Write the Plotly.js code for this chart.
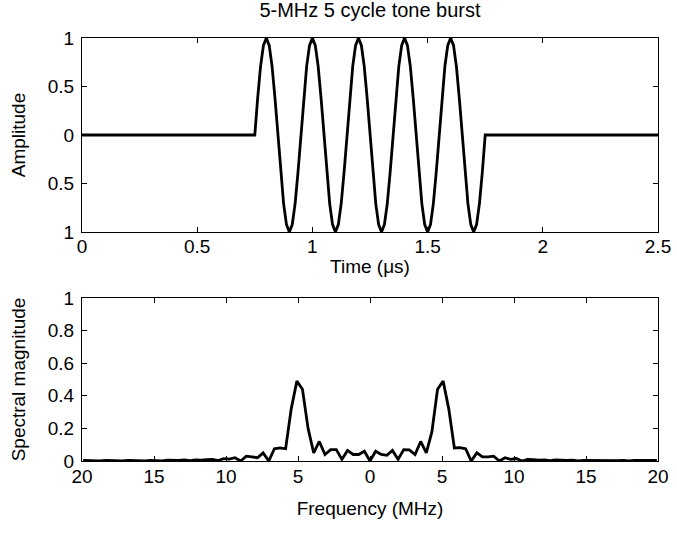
<!DOCTYPE html>
<html>
<head>
<meta charset="utf-8">
<script src="https://cdn.plot.ly/plotly-3.0.1.min.js"></script>
<style>html,body{margin:0;padding:0;background:#fff;}#chart{width:677px;height:549px;}</style>
</head>
<body>
<div id="chart"></div>
<script>
// ---- Tone burst (time in microseconds, amplitude) ----
var burstTime = [0, 0.75, 0.7625, 0.775, 0.7875, 0.8, 0.8125, 0.825, 0.8375, 0.85, 0.8625, 0.875, 0.8875, 0.9, 0.9125, 0.925, 0.9375,
  0.95, 0.9625, 0.975, 0.9875, 1.0, 1.0125, 1.025, 1.0375, 1.05, 1.0625, 1.075, 1.0875, 1.1, 1.1125, 1.125, 1.1375,
  1.15, 1.1625, 1.175, 1.1875, 1.2, 1.2125, 1.225, 1.2375, 1.25, 1.2625, 1.275, 1.2875, 1.3, 1.3125, 1.325, 1.3375,
  1.35, 1.3625, 1.375, 1.3875, 1.4, 1.4125, 1.425, 1.4375, 1.45, 1.4625, 1.475, 1.4875, 1.5, 1.5125, 1.525, 1.5375,
  1.55, 1.5625, 1.575, 1.5875, 1.6, 1.6125, 1.625, 1.6375, 1.65, 1.6625, 1.675, 1.6875, 1.7, 1.7125, 1.725, 1.7375,
  1.75, 2.5];
var burstAmp = [0, 0, 0.383, 0.707, 0.924, 1, 0.924, 0.707, 0.383, 0, -0.383, -0.707, -0.924, -1, -0.924, -0.707, -0.383,
  0, 0.383, 0.707, 0.924, 1, 0.924, 0.707, 0.383, 0, -0.383, -0.707, -0.924, -1, -0.924, -0.707, -0.383,
  0, 0.383, 0.707, 0.924, 1, 0.924, 0.707, 0.383, 0, -0.383, -0.707, -0.924, -1, -0.924, -0.707, -0.383,
  0, 0.383, 0.707, 0.924, 1, 0.924, 0.707, 0.383, 0, -0.383, -0.707, -0.924, -1, -0.924, -0.707, -0.383,
  0, 0.383, 0.707, 0.924, 1, 0.924, 0.707, 0.383, 0, -0.383, -0.707, -0.924, -1, -0.924, -0.707, -0.383,
  0, 0];

// ---- Spectrum (frequency in MHz, magnitude) ----
var freq = [-19.92, -19.53, -19.14, -18.75, -18.36, -17.97, -17.58, -17.19, -16.80, -16.41, -16.02, -15.63, -15.23,
  -14.84, -14.45, -14.06, -13.67, -13.28, -12.89, -12.50, -12.11, -11.72, -11.33, -10.94, -10.55, -10.16, -9.77,
  -9.38, -8.98, -8.59, -8.20, -7.81, -7.42, -7.03, -6.64, -6.25, -5.86, -5.47, -5.08, -4.69, -4.30, -3.91, -3.52,
  -3.13, -2.73, -2.34, -1.95, -1.56, -1.17, -0.78, -0.39, 0, 0.39, 0.78, 1.17, 1.56, 1.95, 2.34, 2.73, 3.13, 3.52,
  3.91, 4.30, 4.69, 5.08, 5.47, 5.86, 6.25, 6.64, 7.03, 7.42, 7.81, 8.20, 8.59, 8.98, 9.38, 9.77, 10.16, 10.55,
  10.94, 11.33, 11.72, 12.11, 12.50, 12.89, 13.28, 13.67, 14.06, 14.45, 14.84, 15.23, 15.63, 16.02, 16.41, 16.80,
  17.19, 17.58, 17.97, 18.36, 18.75, 19.14, 19.53, 19.92];
var mag = [0.003, 0.002, 0.003, 0.001, 0.004, 0.002, 0.003, 0.001, 0.004, 0.002, 0.003, 0.001, 0.004,
  0.003, 0.001, 0.005, 0.003, 0.004, 0.006, 0.002, 0.007, 0.005, 0.008, 0.010, 0.003, 0.015, 0.012,
  0.020, 0.000, 0.030, 0.025, 0.020, 0.050, 0.000, 0.075, 0.080, 0.075, 0.320, 0.490, 0.440, 0.200, 0.050, 0.120,
  0.040, 0.070, 0.070, 0.010, 0.065, 0.040, 0.040, 0.060, 0.000, 0.060, 0.040, 0.035, 0.065, 0.010, 0.070, 0.068, 0.040, 0.120,
  0.050, 0.180, 0.440, 0.490, 0.320, 0.080, 0.082, 0.075, 0.000, 0.050, 0.025, 0.025, 0.030, 0.000, 0.020, 0.010, 0.015, 0.000,
  0.010, 0.008, 0.005, 0.007, 0.002, 0.006, 0.004, 0.003, 0.005, 0.001, 0.004, 0.003, 0.002, 0.004, 0.001, 0.003,
  0.002, 0.004, 0.001, 0.003, 0.002, 0.004, 0.001, 0.003];

// ---- Tick labels (as printed in the figure) ----
var ampTickVals = [1, 0.5, 0, -0.5, -1];
var ampTickText = ['1', '0.5', '0', '0.5', '1'];
var timeTickVals = [0, 0.5, 1, 1.5, 2, 2.5];
var timeTickText = ['0', '0.5', '1', '1.5', '2', '2.5'];
var freqTickVals = [-20, -15, -10, -5, 0, 5, 10, 15, 20];
var freqTickText = ['20', '15', '10', '5', '0', '5', '10', '15', '20'];
var magTickVals = [0, 0.2, 0.4, 0.6, 0.8, 1];
var magTickText = ['0', '0.2', '0.4', '0.6', '0.8', '1'];

var FONT = 'Liberation Sans, Arial, Helvetica, sans-serif';
var FS = 19;
var axisCommon = {
  showline: true, linecolor: '#000', linewidth: 1, mirror: 'allticks',
  ticks: 'inside', ticklen: 5, tickwidth: 1, tickcolor: '#000',
  showgrid: false, zeroline: false, tickfont: {family: FONT, size: FS, color: '#000'}
};

var traces = [
  {x: burstTime, y: burstAmp, type: 'scatter', mode: 'lines', line: {color: '#000', width: 2.8},
   xaxis: 'x', yaxis: 'y', hoverinfo: 'skip'},
  {x: freq, y: mag, type: 'scatter', mode: 'lines', line: {color: '#000', width: 2.8},
   xaxis: 'x2', yaxis: 'y2', hoverinfo: 'skip'}
];

var layout = {
  width: 677, height: 549,
  margin: {l: 82, r: 19, t: 38, b: 88},
  paper_bgcolor: '#fff', plot_bgcolor: '#fff',
  showlegend: false,
  font: {family: FONT, color: '#000', size: FS},
  title: {text: '5-MHz 5 cycle tone burst', font: {family: FONT, size: 20, color: '#000'},
          x: 0.5, xref: 'paper', y: 0.995, yref: 'container', yanchor: 'top'},
  xaxis: Object.assign({}, axisCommon, {domain: [0, 1], range: [0, 2.5], anchor: 'y',
    tickvals: timeTickVals, ticktext: timeTickText, ticklabelstandoff: -3,
    title: {text: 'Time (μs)', font: {family: FONT, size: FS, color: '#000'}, standoff: 3}}),
  yaxis: Object.assign({}, axisCommon, {domain: [0.5414, 1], range: [-1, 1], anchor: 'x',
    tickvals: ampTickVals, ticktext: ampTickText, ticklabelstandoff: 3,
    title: {text: 'Amplitude', font: {family: FONT, size: FS, color: '#000'}, standoff: 17}}),
  xaxis2: Object.assign({}, axisCommon, {domain: [0, 1], range: [-20, 20], anchor: 'y2',
    tickvals: freqTickVals, ticktext: freqTickText, ticklabelstandoff: -2,
    title: {text: 'Frequency (MHz)', font: {family: FONT, size: FS, color: '#000'}, standoff: 15}}),
  yaxis2: Object.assign({}, axisCommon, {domain: [0, 0.3853], range: [0, 1], anchor: 'x2',
    tickvals: magTickVals, ticktext: magTickText, ticklabelstandoff: 3,
    title: {text: 'Spectral magnitude', font: {family: FONT, size: FS, color: '#000'}, standoff: 17}})
};

Plotly.newPlot('chart', traces, layout, {staticPlot: true, displayModeBar: false});
</script>
</body>
</html>
